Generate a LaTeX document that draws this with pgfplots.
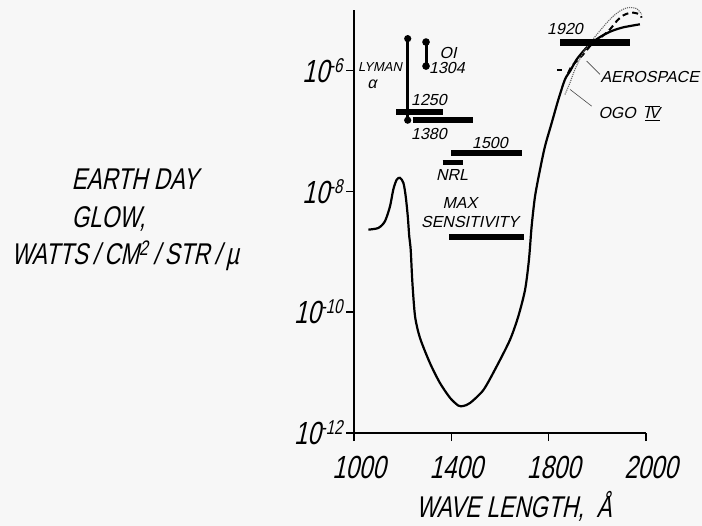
\documentclass[border=0pt]{standalone}
\usepackage{fontspec}
\usepackage{pgfplots}
\pgfplotsset{compat=1.18}
\newfontfamily\hand{Liberation Sans}[FakeSlant=0.22,FakeStretch=0.75]
\newfontfamily\handw{Liberation Sans}[FakeSlant=0.22]
\newcommand\ylab[1]{\mbox{\fontsize{32}{34}\selectfont\hand 10\raisebox{10pt}{\fontsize{20}{20}\selectfont #1}}}
\newcommand\sm{\fontsize{16}{18}\selectfont\handw}
\begin{document}
\begin{tikzpicture}
\path[use as bounding box, fill=white!97!black] (0,0) rectangle (702pt,526pt);
\begin{axis}[
  scale only axis, width=292pt, height=423pt,
  at={(354pt,93pt)}, anchor=south west,
  xmin=1000, xmax=2200, ymode=log, ymin=1e-12, ymax=1e-5,
  axis lines=left, axis line style={-, line width=1.3pt},
  xtick={1000,1400,1800,2200}, xticklabels={1000,1400,1800,2000},
  ytick={1e-12,1e-10,1e-8,1e-6}, yticklabels={\ylab{-12},\ylab{-10},\ylab{-8},\ylab{-6}},
  yminorticks=false, xminorticks=false,
  tick align=outside, major tick length=8pt, tick style={line width=1.3pt, black},
  xticklabel style={font=\fontsize{32}{34}\selectfont\hand, xshift=5pt, yshift=-12pt},
  clip=false,
]
% main glow curve
\addplot[line width=2.2pt, smooth, tension=0.45] coordinates {
(1059,2.32e-9) (1100,2.47e-9) (1127,3.18e-9) (1148,5.64e-9) (1161.5,1.07e-8) (1175.5,1.56e-8)
(1189,1.67e-8) (1203,1.38e-8) (1212.5,8.26e-9) (1221,3.85e-9) (1227,1.8e-9) (1233,1.08e-9)
(1240,3.06e-10) (1251,8.47e-11) (1271,3.76e-11) (1312,1.44e-11) (1353,6.75e-12) (1395,3.8e-12)
(1429,2.84e-12) (1449,2.8e-12) (1477,3.14e-12) (1532,5.16e-12) (1586,1.26e-11) (1641,3.48e-11)
(1675,8.47e-11) (1703,2.34e-10) (1719,7.38e-10) (1730,2.63e-9) (1744,8.26e-9) (1764.5,2.29e-8)
(1785,5.57e-8) (1812.6,1.36e-7) (1840,3.31e-7) (1867,7.1e-7) (1888,9.75e-7) (1915,1.52e-6)
(1949,2.23e-6) (1977,2.88e-6) (2018,3.71e-6) (2059,4.49e-6) (2106,5.16e-6) (2175,5.8e-6)
};
% Aerospace (dashed)
\addplot[line width=2pt, dash pattern=on 6pt off 4pt, smooth] coordinates {
(1880,9e-7) (1895,1.18e-6) (1936,1.73e-6) (1977,2.7e-6) (2018,3.62e-6) (2052,4.79e-6)
(2080,6.58e-6) (2107,8.17e-6) (2141,9.05e-6) (2173,8.49e-6) (2182,7.48e-6)
};
% OGO IV (dotted)
\addplot[line width=1.1pt, densely dotted, black!60, smooth] coordinates {
(1867,4.0e-7) (1888,6.3e-7) (1908,1.04e-6) (1942,1.97e-6) (1984,3.35e-6) (2025,5.31e-6)
(2059,7.48e-6) (2093,9.63e-6) (2127,1.096e-5) (2162,1.05e-5) (2182,8.49e-6)
};
% small dash at 1e-6
\addplot[line width=2pt] coordinates {(1834,1e-6) (1855,1e-6)};
% Lyman alpha line
\addplot[line width=2.6pt, mark=*, mark size=2.2pt] coordinates {(1220.7,3.36e-6) (1220.7,1.50e-7)};
% OI 1304 line
\addplot[line width=3pt, mark=*, mark size=2.2pt] coordinates {(1296,2.95e-6) (1296,1.18e-6)};
% bars
\addplot[line width=6pt] coordinates {(1172.6,2.07e-7) (1367,2.07e-7)};
\addplot[line width=6pt] coordinates {(1241,1.49e-7) (1490.4,1.49e-7)};
\addplot[line width=6pt] coordinates {(1398.7,4.33e-8) (1691.7,4.33e-8)};
\addplot[line width=5pt] coordinates {(1364.5,2.95e-8) (1446.7,2.95e-8)};
\addplot[line width=6pt] coordinates {(1390.5,1.73e-9) (1698.7,1.73e-9)};
\addplot[line width=7pt] coordinates {(1846.7,2.95e-6) (2134.4,2.95e-6)};
% leader lines
\draw[line width=0.6pt, black!70] (axis cs:1956,1.43e-6) -- (axis cs:2011,8.59e-7);
\draw[line width=0.6pt, black!70] (axis cs:1888,4.84e-7) -- (axis cs:1977,2.56e-7);
\end{axis}
% axis labels
\node[font=\fontsize{30}{32}\selectfont\hand] at (514pt,20pt) {WAVE LENGTH,\ \ \AA};
\node[font=\fontsize{30}{32}\selectfont\hand, anchor=west] at (68pt,347pt) {EARTH DAY};
\node[font=\fontsize{30}{32}\selectfont\hand, anchor=west] at (68pt,307pt) {GLOW,};
\node[font=\fontsize{30}{32}\selectfont\hand, anchor=west] at (8pt,270pt) {WATTS\,/\,CM\textsuperscript{2}\,/\,STR\,/\,\textmu};
% annotations
\node[font=\fontsize{13}{15}\selectfont\handw] at (380pt,459pt) {LYMAN};
\node[font=\fontsize{16}{18}\selectfont\handw] at (372pt,442pt) {α};
\node[font=\sm] at (448pt,473pt) {OI};
\node[font=\sm] at (447pt,458pt) {1304};
\node[font=\sm] at (429pt,426pt) {1250};
\node[font=\sm] at (429pt,392pt) {1380};
\node[font=\sm] at (490pt,383pt) {1500};
\node[font=\sm] at (452pt,351pt) {NRL};
\node[font=\sm] at (460pt,323pt) {MAX};
\node[font=\sm] at (470pt,304pt) {SENSITIVITY};
\node[font=\sm] at (565pt,497pt) {1920};
\node[font=\sm, anchor=west] at (597pt,449pt) {AEROSPACE};
\node[font=\sm, anchor=west] at (595pt,413pt) {OGO \ $\overline{\underline{\mbox{\sm IV}}}$};
\end{tikzpicture}
\end{document}
